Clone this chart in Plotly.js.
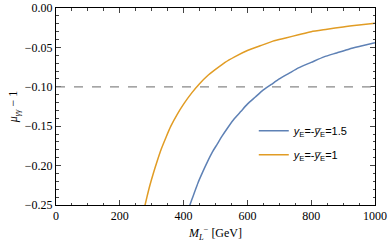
<!DOCTYPE html>
<html>
<head>
<meta charset="utf-8">
<script src="https://cdn.plot.ly/plotly-3.0.1.min.js"></script>
<style>html,body{margin:0;padding:0;background:#fff;}#plot{width:390px;height:246px;}</style>
</head>
<body>
<div id="plot"></div>
<script>
const massBlue = [418, 425, 435, 445, 460, 475, 490, 505, 520, 540, 560, 580, 600, 625, 650, 675, 700, 730, 760, 800, 840, 880, 920, 960, 1000];
const muBlue = [-0.252, -0.244, -0.233, -0.222, -0.208, -0.195, -0.183, -0.173, -0.163, -0.151, -0.140, -0.131, -0.122, -0.113, -0.104, -0.097, -0.090, -0.083, -0.076, -0.069, -0.062, -0.057, -0.052, -0.048, -0.044];
const massOrange = [278, 285, 295, 305, 315, 330, 345, 360, 380, 400, 425, 450, 475, 500, 530, 560, 600, 640, 680, 720, 760, 800, 850, 900, 950, 1000];
const muOrange = [-0.252, -0.240, -0.224, -0.210, -0.197, -0.179, -0.164, -0.150, -0.135, -0.122, -0.108, -0.096, -0.086, -0.078, -0.069, -0.062, -0.054, -0.048, -0.042, -0.038, -0.034, -0.030, -0.027, -0.024, -0.0216, -0.0195];
const refLevel = -0.1;
const nameBlue = "<i>y</i><sub>E</sub>=-<i>y\u0305</i><sub>E</sub>=1.5";
const nameOrange = "<i>y</i><sub>E</sub>=-<i>y\u0305</i><sub>E</sub>=1";

const serif = "'Liberation Serif', 'Times New Roman', Times, serif";
const sans = "'Liberation Sans', Arial, sans-serif";
const traces = [
  {x: massBlue, y: muBlue, mode: 'lines', name: nameBlue, legendgroup: 'a', line: {color: '#5E81B5', width: 1.5, shape: 'spline', smoothing: 0.6}},
  {x: massOrange, y: muOrange, mode: 'lines', name: nameOrange, legendgroup: 'b', line: {color: '#E19C24', width: 1.5, shape: 'spline', smoothing: 0.6}}
];
const layout = {
  width: 390, height: 246,
  margin: {l: 56, r: 15, t: 8, b: 41},
  paper_bgcolor: '#fff', plot_bgcolor: '#fff',
  font: {family: serif, size: 12, color: '#000'},
  xaxis: {
    range: [0, 1000], dtick: 200, tick0: 0, ticks: 'inside', ticklen: 5, tickwidth: 1,
    showgrid: false, zeroline: false, showline: true, linewidth: 1, linecolor: '#000', mirror: 'ticks',
    minor: {dtick: 50, ticks: 'inside', ticklen: 2.5, tickwidth: 1, showgrid: false},
    tickfont: {family: serif, size: 12},
    title: {text: "<i>M</i><sub><i>L</i></sub><sup>−</sup> [GeV]", font: {family: serif, size: 12}, standoff: 6}
  },
  yaxis: {
    range: [-0.25, 0], dtick: 0.05, tick0: 0, tickformat: '.2f', ticks: 'inside', ticklen: 5, tickwidth: 1,
    showgrid: false, zeroline: false, showline: true, linewidth: 1, linecolor: '#000', mirror: 'ticks',
    minor: {dtick: 0.01, ticks: 'inside', ticklen: 2.5, tickwidth: 1, showgrid: false},
    tickfont: {family: serif, size: 12},
    title: {text: "<i>μ</i><sub><i>γγ</i></sub> − 1", font: {family: serif, size: 12}, standoff: 4}
  },
  shapes: [{type: 'line', xref: 'paper', x0: 0, x1: 1, yref: 'y', y0: refLevel, y1: refLevel,
            line: {color: '#888', width: 1.2, dash: 'dash'}}],
  legend: {x: 0.62, y: 0.45, xanchor: 'left', yanchor: 'top', bgcolor: 'rgba(0,0,0,0)',
           font: {family: sans, size: 11}, traceorder: 'grouped', tracegroupgap: 5, itemwidth: 30},
  showlegend: true
};
Plotly.newPlot('plot', traces, layout, {displayModeBar: false, staticPlot: true});
</script>
</body>
</html>
